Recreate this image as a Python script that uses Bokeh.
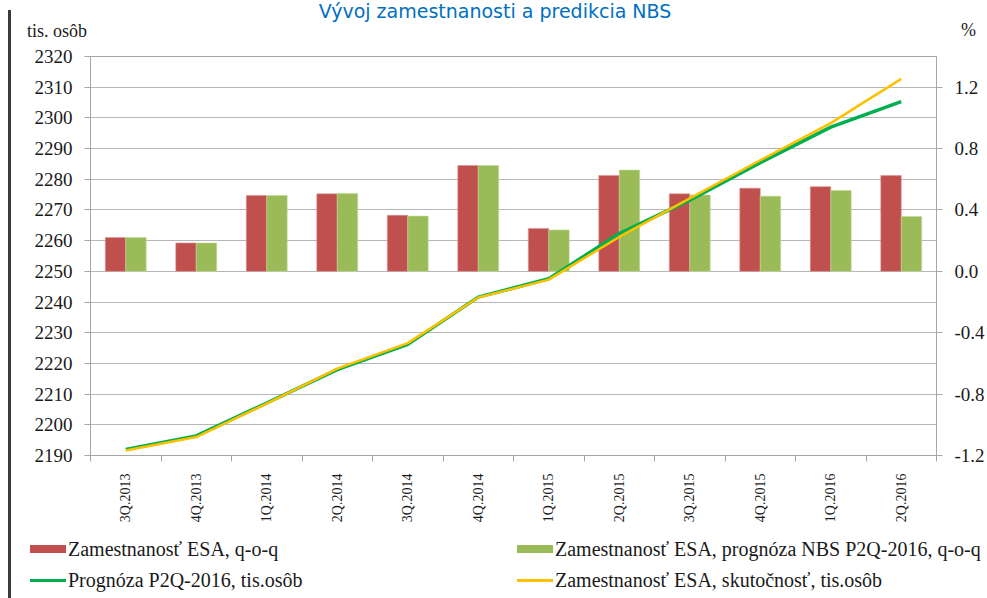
import math
from bokeh.plotting import figure
from bokeh.layouts import row, column
from bokeh.models import (Range1d, LinearAxis, FixedTicker, PrintfTickFormatter,
                          ColumnDataSource, Div, Spacer)
from bokeh.transform import dodge
from bokeh.embed import file_html
from bokeh.resources import INLINE

# ---- data ----
categories = ["3Q.2013", "4Q.2013", "1Q.2014", "2Q.2014", "3Q.2014", "4Q.2014",
              "1Q.2015", "2Q.2015", "3Q.2015", "4Q.2015", "1Q.2016", "2Q.2016"]
esa_qoq = [0.22, 0.185, 0.495, 0.505, 0.365, 0.69, 0.28, 0.625, 0.505, 0.542, 0.552, 0.624]
nbs_qoq = [0.22, 0.185, 0.495, 0.508, 0.36, 0.69, 0.27, 0.66, 0.497, 0.49, 0.527, 0.357]
forecast_lvl = [2192.0, 2196.4, 2207.1, 2218.0, 2226.2, 2241.6, 2247.6, 2262.3, 2273.2, 2285.4, 2297.0, 2305.3]
actual_lvl = [2191.6, 2196.0, 2206.9, 2218.3, 2226.6, 2241.5, 2247.3, 2261.2, 2273.8, 2286.2, 2298.3, 2312.7]
left_ticks = list(range(2190, 2321, 10))
right_ticks = [-1.2, -0.8, -0.4, 0.0, 0.4, 0.8, 1.2]
title_text = "Vývoj zamestnanosti a predikcia NBS"
left_unit = "tis. osôb"
right_unit = "%"
legend_labels = ["Zamestnanosť ESA, q-o-q",
                 "Zamestnanosť ESA, prognóza NBS P2Q-2016, q-o-q",
                 "Prognóza P2Q-2016, tis.osôb",
                 "Zamestnanosť ESA, skutočnosť, tis.osôb"]

n = len(categories)
centers = [i + 0.5 for i in range(n)]
boundaries = list(range(n + 1))

src = ColumnDataSource(dict(x=centers, red=esa_qoq, green=nbs_qoq,
                            fc=forecast_lvl, act=actual_lvl))

SERIF = "Liberation Serif"
RED = "#C0504D"
GREEN = "#9BBB59"
LGREEN = "#00B050"
YELLOW = "#FFC000"
TXT = "#1a1a1a"
AX = "#A6A6A6"

X0 = 11          # page x where the chart column starts
W = 987 - X0

# ---- top strip: title and unit labels (HTML text) ----
def absdiv(left, top, inner, extra=""):
    return (f'<div style="position:absolute;left:{left}px;top:{top}px;'
            f'white-space:nowrap;{extra}">{inner}</div>')

top_html = (
    f'<div style="position:relative;width:{W}px;height:40px;'
    f'font-family:\'{SERIF}\';color:{TXT};">'
    + absdiv(495 - X0, 0, title_text,
             "transform:translateX(-50%);font-family:'DejaVu Sans';font-size:19px;"
             "line-height:22px;color:#0070C0;")
    + absdiv(27 - X0, 21, left_unit, "font-size:18px;line-height:20px;")
    + absdiv(961 - X0, 20, right_unit, "font-size:18px;line-height:20px;")
    + '</div>')
top = Div(text=top_html, width=W, height=40, margin=0, styles={"overflow": "visible"})

# ---- main chart ----
p = figure(width=W, height=490, output_backend="svg", toolbar_location=None,
           x_range=Range1d(0, n), y_range=Range1d(2190, 2320),
           min_border_left=90 - X0, min_border_right=48, min_border_top=16,
           min_border_bottom=75)
p.extra_y_ranges = {"pct": Range1d(-1.2, 1.4)}
p.background_fill_color = "white"
p.border_fill_color = "white"
p.outline_line_color = AX
p.outline_line_width = 1

p.xgrid.visible = False
p.ygrid.ticker = FixedTicker(ticks=left_ticks)
p.ygrid.grid_line_color = "#6E6E6E"
p.ygrid.grid_line_dash = "1 1"
p.ygrid.grid_line_width = 1

ya = p.yaxis[0]
ya.ticker = FixedTicker(ticks=left_ticks)
ya.axis_line_color = AX
ya.major_tick_line_color = AX
ya.major_tick_out = 6
ya.major_tick_in = 0
ya.minor_tick_line_color = None
ya.major_label_standoff = 12
ya.major_label_text_font = SERIF
ya.major_label_text_font_size = "19px"
ya.major_label_text_color = TXT

ra = LinearAxis(y_range_name="pct", ticker=FixedTicker(ticks=right_ticks),
                formatter=PrintfTickFormatter(format="%.1f"))
ra.axis_line_color = AX
ra.major_tick_line_color = AX
ra.major_tick_out = 6
ra.major_tick_in = 0
ra.minor_tick_line_color = None
ra.major_label_standoff = 12
ra.major_label_text_font = SERIF
ra.major_label_text_font_size = "19px"
ra.major_label_text_color = TXT
p.add_layout(ra, "right")

xa = p.xaxis[0]
xa.ticker = FixedTicker(ticks=centers, minor_ticks=boundaries)
xa.major_label_overrides = {c: cat for c, cat in zip(centers, categories)}
xa.major_label_orientation = math.pi / 2
xa.major_tick_line_color = None
xa.minor_tick_line_color = AX
xa.minor_tick_out = 6
xa.minor_tick_in = 0
xa.axis_line_color = AX
xa.major_label_standoff = 12
xa.major_label_text_font = SERIF
xa.major_label_text_font_size = "14px"
xa.major_label_text_color = TXT

p.vbar(x=dodge("x", -0.145), top="red", bottom=0, width=0.29, source=src,
       y_range_name="pct", fill_color=RED, line_color="#D99694", line_width=0.6)
p.vbar(x=dodge("x", 0.145), top="green", bottom=0, width=0.29, source=src,
       y_range_name="pct", fill_color=GREEN, line_color="#C3D69B", line_width=0.6)
p.line("x", "fc", source=src, line_color=LGREEN, line_width=3.5)
p.line("x", "act", source=src, line_color=YELLOW, line_width=2.5)

# ---- legend strip (HTML) ----
def leg_item(gx, cy, label, color, kind):
    if kind == "bar":
        glyph = absdiv(gx, cy - 4, "", f"width:36px;height:8px;background:{color};")
    else:
        glyph = absdiv(gx, cy - 1.5, "", f"width:36px;height:3px;background:{color};")
    text = absdiv(gx + 38, cy - 11, label, "font-size:20px;line-height:22px;")
    return glyph + text

leg_html = (
    f'<div style="position:relative;width:{W}px;height:68px;'
    f'font-family:\'{SERIF}\';color:{TXT};">'
    + leg_item(30 - X0, 19, legend_labels[0], RED, "bar")
    + leg_item(517 - X0, 19, legend_labels[1], GREEN, "bar")
    + leg_item(30 - X0, 50, legend_labels[2], LGREEN, "line")
    + leg_item(517 - X0, 50, legend_labels[3], YELLOW, "line")
    + '</div>')
leg = Div(text=leg_html, width=W, height=68, margin=0, styles={"overflow": "visible"})

frame_line = Div(text="", width=3, height=588, margin=0,
                 styles={"background-color": "#3a3a3a"})
layout = row(Spacer(width=8, height=598, margin=0),
             column(Spacer(width=3, height=10, margin=0), frame_line, spacing=0, margin=0),
             column(top, p, leg, spacing=0, margin=0),
             spacing=0, margin=0)

open("out.html", "w").write(file_html(layout, INLINE))
